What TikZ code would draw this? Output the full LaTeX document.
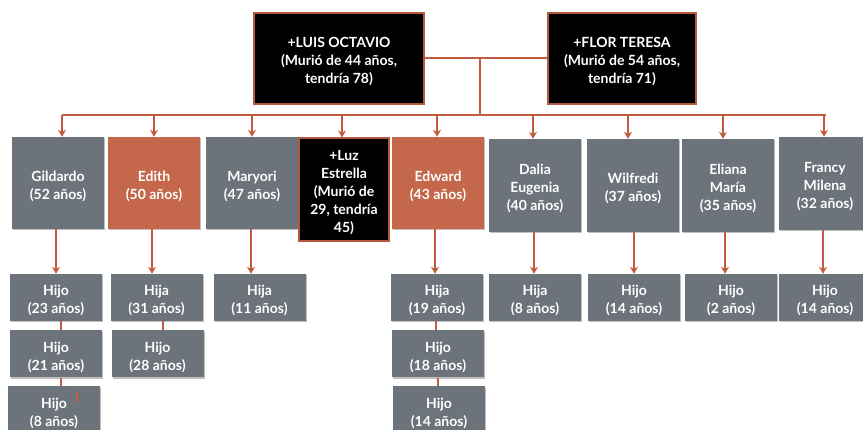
\documentclass[tikz,border=0pt]{standalone}
\usepackage{fontspec}
\setmainfont{Lato}
\usetikzlibrary{arrows.meta,shadows}
\definecolor{slate}{HTML}{6C737B}
\definecolor{rust}{HTML}{C4674B}
\definecolor{lnk}{HTML}{C25B40}
\definecolor{brd}{HTML}{B5583E}
\newcommand{\tx}[1]{\raisebox{-3.5pt}[\height][\depth]{\begin{tabular}{@{}c@{}}#1\end{tabular}}}
\tikzset{
  base/.style={rectangle, inner sep=1pt, text=white, align=center,
    font=\fontsize{14}{18}\selectfont\bfseries,
    drop shadow={shadow xshift=1.2pt, shadow yshift=-1.2pt, opacity=0.25, fill=black}},
  gbox/.style={base, fill=slate, minimum width=92pt, minimum height=92pt},
  obox/.style={base, fill=rust, minimum width=92pt, minimum height=92pt},
  kbox/.style={base, fill=black, draw=brd, line width=1.2pt},
  sbox/.style={base, fill=slate, minimum width=92pt, minimum height=47pt},
  lk/.style={draw=lnk, line width=1.6pt},
  arr/.style={lk, -{Stealth[length=7pt,width=8pt]}}
}
\begin{document}
\begin{tikzpicture}[x=1pt,y=-1pt]
\useasboundingbox (0,0) rectangle (863,430);
% parents
\node[kbox, minimum width=170pt, minimum height=91pt] (luis) at (339,58.5) {\tx{+LUIS OCTAVIO\\(Murió de 44 años,\\tendría 78)}};
\node[kbox, minimum width=148pt, minimum height=91pt] (flor) at (622,58.5) {\tx{+FLOR TERESA\\(Murió de 54 años,\\tendría 71)}};
% children
\node[gbox] (gil) at (58,183) {\tx{Gildardo\\(52 años)}};
\node[obox] (edi) at (154,183) {\tx{Edith\\(50 años)}};
\node[gbox] (mar) at (252,183) {\tx{Maryori\\(47 años)}};
\node[kbox, minimum width=90pt, minimum height=103pt] (luz) at (344,189.5) {\tx{+Luz\\Estrella\\(Murió de\\29, tendría\\45)}};
\node[obox] (edw) at (438,183) {\tx{Edward\\(43 años)}};
\node[gbox, minimum height=93pt] (dal) at (535,185.5) {\tx{Dalia\\Eugenia\\(40 años)}};
\node[gbox, minimum height=93pt] (wil) at (633,185.5) {\tx{Wilfredi\\(37 años)}};
\node[gbox, minimum height=93pt] (eli) at (728,185.5) {\tx{Eliana\\María\\(35 años)}};
\node[gbox, minimum height=93pt] (fra) at (825,183.5) {\tx{Francy\\Milena\\(32 años)}};
% grandchildren
\node[sbox] (h23) at (56,297.5) {\tx{Hijo\\(23 años)}};
\node[sbox] (h21) at (56,354) {\tx{Hijo\\(21 años)}};
\node[sbox] (h8) at (54,410) {\tx{Hijo\\(8 años)}};
\node[sbox] (a31) at (156.5,297.5) {\tx{Hija\\(31 años)}};
\node[sbox] (h28) at (157.5,354) {\tx{Hijo\\(28 años)}};
\node[sbox] (a11) at (259.5,297.5) {\tx{Hija\\(11 años)}};
\node[sbox] (a19) at (437,297.5) {\tx{Hija\\(19 años)}};
\node[sbox] (h18) at (438,354) {\tx{Hijo\\(18 años)}};
\node[sbox] (h14e) at (439,410) {\tx{Hijo\\(14 años)}};
\node[sbox] (a8) at (535,297.5) {\tx{Hija\\(8 años)}};
\node[sbox] (h14w) at (634,297.5) {\tx{Hijo\\(14 años)}};
\node[sbox] (h2) at (731,297.5) {\tx{Hijo\\(2 años)}};
\node[sbox] (h14f) at (825,297.5) {\tx{Hijo\\(14 años)}};
% parent connectors
\coordinate (mid) at (480,58);
\coordinate (busmid) at (480,115);
\coordinate (busl) at (62,115);
\coordinate (busr) at (826,115);
\draw[lk] (luis.east |- mid) -- (flor.west |- mid);
\draw[lk] (mid) -- (busmid);
\draw[lk] (busl) -- (busr);
\foreach \n/\xx in {gil/62,edi/154,mar/252,luz/342,edw/437,dal/533,wil/628,eli/723,fra/824}{
  \draw[arr] (\xx,115) -- (\n.north -| \xx,0);
}
% child to grandchild arrows
\draw[arr] (gil.south -| 56,0) -- (h23.north -| 56,0);
\draw[arr] (edi.south -| 152,0) -- (a31.north -| 152,0);
\draw[arr] (mar.south -| 251,0) -- (a11.north -| 251,0);
\draw[arr] (edw.south -| 435,0) -- (a19.north -| 435,0);
\draw[arr] (dal.south -| 534,0) -- (a8.north -| 534,0);
\draw[arr] (wil.south -| 634,0) -- (h14w.north -| 634,0);
\draw[arr] (eli.south -| 725,0) -- (h2.north -| 725,0);
\draw[arr] (fra.south -| 823,0) -- (h14f.north -| 823,0);
% sibling chains
\draw[lk] (h23.south -| 61,0) -- (h21.north -| 61,0);
\draw[lk] (h21.south -| 61,0) -- (h8.north -| 61,0);
\draw[lk] (a31.south -| 163,0) -- (h28.north -| 163,0);
\draw[lk] (a19.south -| 436,0) -- (h18.north -| 436,0);
\draw[lk] (h18.south -| 438,0) -- (h14e.north -| 438,0);
% stray mark
\coordinate (m1) at (77,392);
\coordinate (m2) at (77,402);
\draw[lk] (m1) -- (m2);
\end{tikzpicture}
\end{document}
